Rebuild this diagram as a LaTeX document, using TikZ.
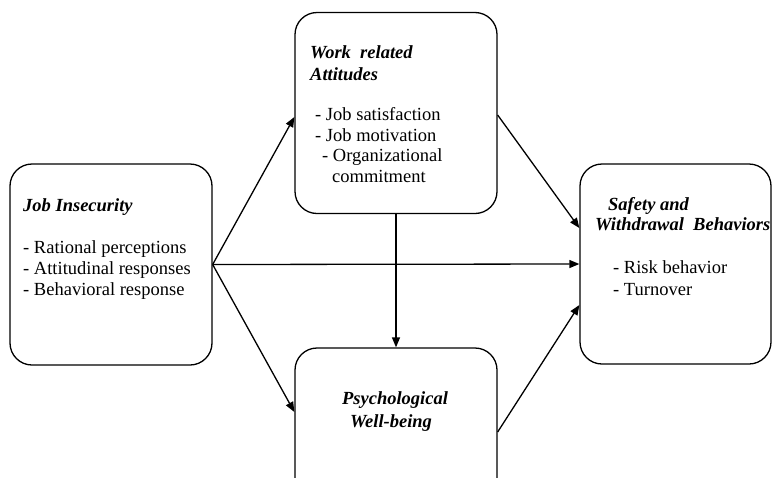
\documentclass[tikz,border=0pt]{standalone}
\usepackage{fontspec}
\setmainfont{Liberation Serif}
\usetikzlibrary{arrows.meta}
\begin{document}
\begin{tikzpicture}[x=1pt,y=1pt,
  box/.style={draw,line width=1.3pt,rounded corners=22pt,minimum width=202pt,minimum height=201pt,inner sep=0pt},
  txt/.style={anchor=base west,inner sep=0pt,font=\fontsize{18.5}{21}\selectfont},
  head/.style={txt,font=\fontsize{18.5}{21}\selectfont\bfseries\itshape},
  arr/.style={line width=1.3pt,-{Triangle[length=10pt,width=8pt]}}]
  \useasboundingbox (0,0) rectangle (773,-477);
  \clip (0,0) rectangle (773,-477);
  % boxes
  \node[box] (insec) at (111,-264.5) {}; % job insecurity
  \node[box] (attit) at (396,-113) {}; % work related attitudes
  \node[box,minimum height=200pt] (wellb) at (396,-448) {}; % well-being, cut at the bottom
  \node[box,minimum width=191pt,minimum height=200pt] (safety) at (675.5,-264) {}; % safety and withdrawal
  % texts of the left box
  \node[head] (insecT) at (23,-211) {Job Insecurity};
  \node[txt] (insecA) at (23,-253) {- Rational perceptions};
  \node[txt] (insecB) at (23,-274) {- Attitudinal responses};
  \node[txt] (insecC) at (23,-295) {- Behavioral response};
  % texts of the top box
  \node[head] (attitT) at (310,-58) {Work\ \ related};
  \node[head] (attitU) at (310,-80) {Attitudes};
  \node[txt] (attitA) at (315,-120) {- Job satisfaction};
  \node[txt] (attitB) at (315,-141) {- Job motivation};
  \node[txt] (attitC) at (322,-161) {- Organizational};
  \node[txt] (attitD) at (332,-182) {commitment};
  % texts of the bottom box
  \node[head,anchor=base] (wellbT) at (395,-404) {Psychological};
  \node[head,anchor=base] (wellbU) at (391,-427) {Well-being};
  % texts of the right box
  \node[head] (safetyT) at (608,-210) {Safety and};
  \node[head] (safetyU) at (595,-230) {Withdrawal\ \ Behaviors};
  \node[txt] (safetyA) at (613,-273) {- Risk behavior};
  \node[txt] (safetyB) at (613,-295) {- Turnover};
  % arrows
  \draw[arr] (insec.east) -- ([yshift=-4pt]attit.west);
  \draw[arr] (insec.east) -- ([yshift=36pt]wellb.west);
  \draw[arr] (insec.east) -- (safety.west);
  \draw[arr] (attit.south) -- (wellb.north);
  \draw[arr] ([yshift=-2pt]attit.east) -- ([yshift=36pt]safety.west);
  \draw[arr] ([yshift=16pt]wellb.east) -- ([yshift=-41pt]safety.west);
\end{tikzpicture}
\end{document}
